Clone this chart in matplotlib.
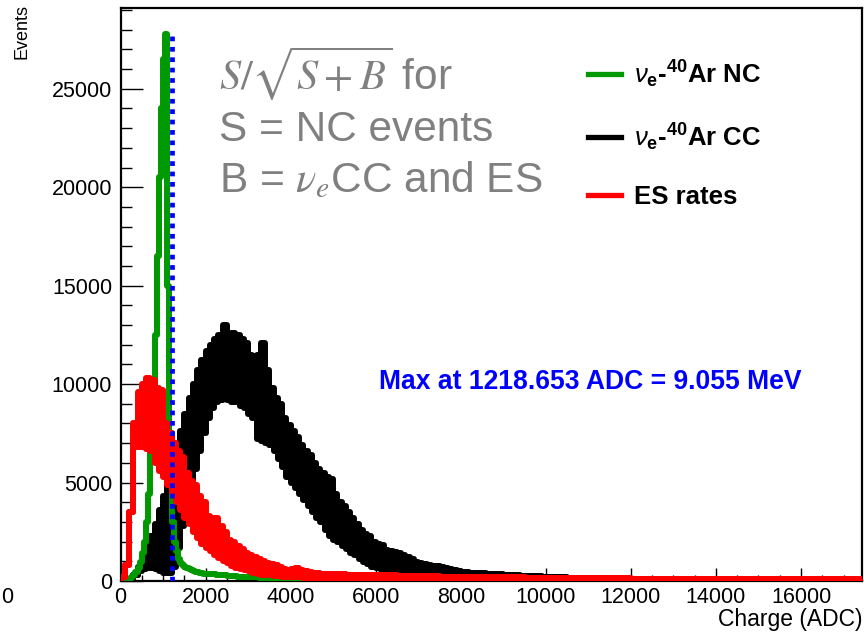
import numpy as np
import matplotlib
matplotlib.use("Agg")
import matplotlib.pyplot as plt
from matplotlib.ticker import MultipleLocator
from matplotlib.lines import Line2D

plt.rcParams['font.family'] = ['Liberation Sans', 'DejaVu Sans']
plt.rcParams['mathtext.fontset'] = 'custom'
plt.rcParams['mathtext.rm'] = 'Liberation Sans'
plt.rcParams['mathtext.it'] = 'Liberation Sans:italic'
plt.rcParams['mathtext.bf'] = 'Liberation Sans:bold'

# Bin edges (ADC): fine binning near the peaks, coarser in the tails
nc_edges = np.concatenate([np.arange(0, 2000, 50), np.arange(2000, 5001, 250)])
es_edges = np.concatenate([np.arange(0, 6000, 100), np.arange(6000, 17501, 500)])
cc_edges = np.concatenate([np.arange(0, 10000, 100), np.arange(10000, 17501, 500)])

# nu_e-40Ar NC
nc_counts = [
    0, 0, 0, 0, 80, 200, 300, 450, 650, 950,
    1400, 2000, 3000, 4400, 6500, 9500, 12500, 16500, 20500, 24000,
    26500, 27800, 15000, 7500, 3000, 2000, 1500, 1100, 900, 800,
    700, 650, 600, 550, 500, 480, 450, 430, 400, 380,
    350, 300, 260, 220, 180, 150, 120, 90, 60, 40, 20, 0,
]

# ES rates: upper / lower envelope of the bin-to-bin fluctuations
es_hi = [
    200, 800, 3500, 8000, 9600, 10000, 10300, 10200, 9800, 9700,
    8000, 7500, 7000, 6600, 6300, 5500, 5100, 4900, 4300, 4000,
    3300, 3100, 3200, 2800, 2500, 2100, 2000, 1800, 1600, 1400,
    1300, 1200, 1100, 1000, 900, 850, 800, 700, 600, 550,
    600, 650, 550, 500, 450, 420, 400, 380, 370, 350,
    350, 340, 330, 320, 310, 300, 300, 290, 280, 280,
    280, 260, 240, 220, 200, 190, 180, 170, 160, 150, 140, 130,
    120, 110, 110, 100, 100, 90, 90, 80, 80, 80, 80,
]
es_lo = [
    200, 800, 3500, 6800, 6800, 6800, 6700, 6600, 6000, 5600,
    5300, 4900, 4500, 4000, 3600, 3200, 2900, 2500, 2200, 1900,
    1700, 1500, 1300, 1150, 1000, 900, 780, 680, 620, 560,
    500, 420, 360, 320, 300, 280, 260, 240, 220, 200,
    200, 190, 180, 170, 160, 150, 150, 140, 140, 130,
    130, 120, 120, 110, 110, 100, 100, 100, 90, 90,
    60, 50, 40, 40, 30, 30, 20, 20, 20, 10, 10, 10,
    10, 0, 0, 0, 0, 0, 0, 0, 0, 0, 0,
]

# nu_e-40Ar CC: upper / lower envelope
cc_hi = [
    0, 0, 100, 300, 700, 1200, 1700, 2300, 2900, 3600,
    4300, 5000, 5800, 6700, 7600, 8500, 9300, 10000, 10700, 11200,
    11700, 12000, 12300, 12500, 13000, 12500, 12600, 12500, 12300, 12100,
    11500, 11450, 11500, 12100, 10700, 9800, 9300, 9000, 8300, 7900,
    7600, 7300, 6900, 6600, 6400, 6000, 5700, 5500, 5300, 5200,
    4400, 4000, 3800, 3500, 3200, 2900, 2600, 2400, 2300, 2000,
    1900, 1850, 1550, 1500, 1450, 1400, 1300, 1200, 1100, 950,
    930, 870, 820, 780, 740, 700, 660, 610, 560, 520,
    480, 450, 430, 410, 400, 390, 380, 370, 350, 330,
    310, 300, 290, 280, 270, 260, 250, 240, 230, 220,
    200, 160, 130, 110, 90, 70, 60, 50, 40, 30, 20, 20, 10, 10, 0,
]
cc_lo = [
    0, 0, 100, 300, 500, 600, 650, 650, 600, 500,
    400, 400, 700, 1700, 2800, 4000, 4900, 5700, 6600, 7500,
    8300, 8800, 9100, 9200, 9300, 9200, 9100, 9100, 8900, 8800,
    8500, 8300, 7200, 7100, 7000, 6900, 6600, 6200, 5800, 5300,
    5000, 4700, 4400, 4100, 3800, 3500, 3200, 3000, 2600, 2300,
    2100, 2000, 1800, 1600, 1400, 1300, 1100, 950, 850, 700,
    650, 600, 550, 450, 400, 350, 300, 280, 250, 220,
    200, 190, 180, 170, 160, 150, 140, 130, 120, 110,
    100, 100, 90, 90, 80, 80, 70, 70, 60, 60,
    60, 50, 50, 50, 40, 40, 40, 30, 30, 30,
    30, 20, 20, 10, 10, 10, 10, 0, 0, 0, 0, 0, 0, 0, 0,
]

max_adc = 1218.653
max_mev = 9.055

GREEN = (0.0, 0.6, 0.0)
LW = 4.3


def step_xy(edges, vals):
    # histogram outline starting and ending on the x axis
    xs = np.repeat(edges, 2)
    ys = np.concatenate([[0], np.repeat(vals, 2), [0]])
    return xs, ys


def draw_band(ax, edges, hi, lo, color, z):
    xs, ys_hi = step_xy(edges, hi)
    _, ys_lo = step_xy(edges, lo)
    ax.fill_between(xs, ys_lo, ys_hi, color=color, lw=0, zorder=z)
    ax.plot(xs, ys_hi, color=color, lw=LW, zorder=z)
    ax.plot(xs, ys_lo, color=color, lw=LW, zorder=z)


fig = plt.figure(figsize=(8.64, 6.32), dpi=100)
ax = fig.add_axes([0.1395, 0.0807, 0.858, 0.9066])

draw_band(ax, cc_edges, cc_hi, cc_lo, 'black', 2)
xs, ys = step_xy(nc_edges, nc_counts)
ax.plot(xs, ys, color=GREEN, lw=LW, zorder=3)
draw_band(ax, es_edges, es_hi, es_lo, 'red', 4)

# position of the S/sqrt(S+B) maximum
ax.plot([max_adc, max_adc], [0, max(nc_counts)], color='blue', lw=3.4,
        dashes=(1.0, 1.2), dash_capstyle='butt', zorder=5)

ax.set_xlim(0, 17430)
ax.set_ylim(0, 29100)
ax.xaxis.set_major_locator(MultipleLocator(2000))
ax.xaxis.set_minor_locator(MultipleLocator(500))
ax.yaxis.set_major_locator(MultipleLocator(5000))
ax.yaxis.set_minor_locator(MultipleLocator(1000))
ax.tick_params(which='both', direction='in', top=False, right=False,
               labelsize=15.5, width=1.0)
ax.tick_params(axis='y', which='major', length=16, pad=6)
ax.tick_params(axis='y', which='minor', length=8)
ax.tick_params(axis='x', which='major', length=9.5, pad=4)
ax.tick_params(axis='x', which='minor', length=4.5)
for sp in ax.spines.values():
    sp.set_linewidth(1.6)
    sp.set_zorder(1.5)

fig.text(0.0255, 0.993, 'Events', rotation=90, ha='center', va='top', fontsize=13)
fig.text(0.998, 0.019, 'Charge (ADC)', ha='right', va='center', fontsize=16.5)
fig.text(0.001, 0.055, '0', ha='left', va='center', fontsize=15.5)

# legend
handles = [Line2D([], [], color=GREEN, lw=3.8),
           Line2D([], [], color='black', lw=3.8),
           Line2D([], [], color='red', lw=3.8)]
labels = [r'$\nu_{\mathbf{e}}$-$^{\mathbf{40}}$Ar NC',
          r'$\nu_{\mathbf{e}}$-$^{\mathbf{40}}$Ar CC',
          'ES rates']
fig.legend(handles, labels, loc='upper left', bbox_to_anchor=(0.680, 0.908),
           frameon=False, prop={'weight': 'bold', 'size': 18.5},
           handlelength=1.3, handletextpad=0.5, labelspacing=1.25,
           borderpad=0, borderaxespad=0)

# significance note
grey = (0.5, 0.5, 0.5)
fig.text(0.253, 0.883, r'$S/\sqrt{S+B}$ for', color=grey, fontsize=30.5,
         math_fontfamily='stix', va='center')
fig.text(0.253, 0.795, 'S = NC events', color=grey, fontsize=30.5, va='center')
fig.text(0.253, 0.713, r'B = $\nu_e$CC and ES', color=grey, fontsize=30.5,
         math_fontfamily='stix', va='center')

ax.text(0.348, 0.348,
        'Max at %.3f ADC = %.3f MeV' % (max_adc, max_mev),
        transform=ax.transAxes, color='blue', fontsize=19.1, fontweight='bold',
        va='center', ha='left')

fig.savefig('out.png', dpi=100)
